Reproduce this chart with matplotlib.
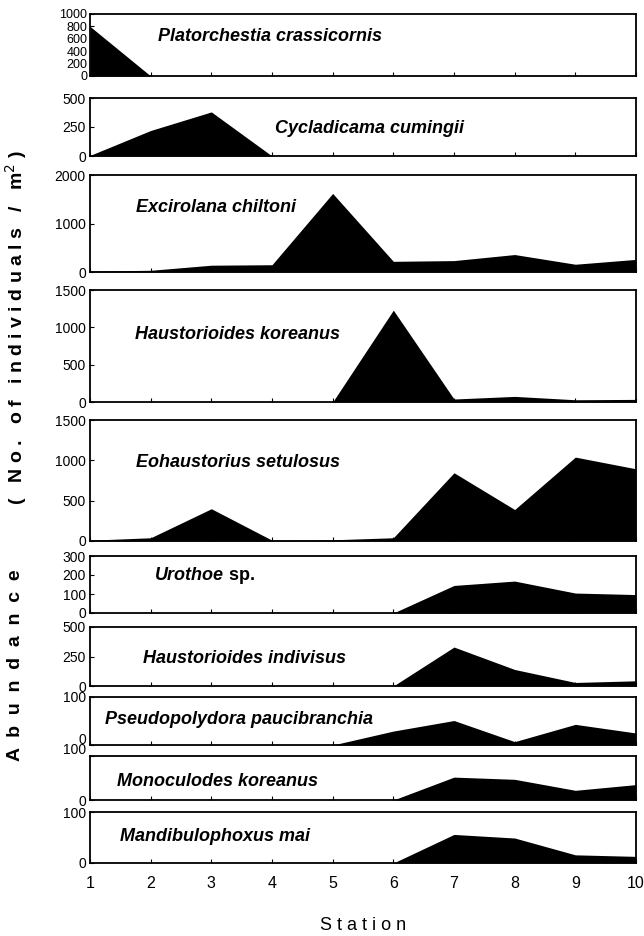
import matplotlib
matplotlib.use('Agg')
import matplotlib.pyplot as plt
import matplotlib.transforms as mtransforms
import numpy as np

plt.rcParams['font.family'] = ['Liberation Sans', 'DejaVu Sans']

# station numbers along the beach transect
stations = [1, 2, 3, 4, 5, 6, 7, 8, 9, 10]

# abundance (individuals / m2) per station
platorchestia = [800, 0, 0, 0, 0, 0, 0, 0, 0, 0]
cycladicama = [5, 220, 380, 0, 0, 0, 0, 0, 0, 0]
excirolana = [20, 35, 140, 150, 1620, 220, 235, 360, 160, 260]
h_koreanus = [0, 0, 0, 0, 0, 1230, 40, 75, 30, 35]
eohaustorius = [10, 40, 400, 10, 15, 40, 846, 390, 1040, 895]
urothoe = [0, 0, 0, 0, 0, 0, 145, 168, 105, 97]
h_indivisus = [0, 0, 0, 0, 0, 0, 330, 140, 30, 44]
pseudopolydora = [0, 0, 0, 0, 0, 29, 51, 7, 43, 25]
monoculodes = [0, 0, 0, 0, 0, 0, 52, 47, 22, 35]
mandibulophoxus = [0, 0, 0, 0, 0, 0, 56, 49, 16, 13]

species = ['Platorchestia crassicornis', 'Cycladicama cumingii', 'Excirolana chiltoni',
           'Haustorioides koreanus', 'Eohaustorius setulosus', 'Urothoe',
           'Haustorioides indivisus', 'Pseudopolydora paucibranchia',
           'Monoculodes koreanus', 'Mandibulophoxus mai']
series = [platorchestia, cycladicama, excirolana, h_koreanus, eohaustorius,
          urothoe, h_indivisus, pseudopolydora, monoculodes, mandibulophoxus]
y_max = [1000, 500, 2000, 1500, 1500, 300, 500, 100, 100, 100]
y_ticks = [[0, 200, 400, 600, 800, 1000], [0, 250, 500], [0, 1000, 2000],
           [0, 500, 1000, 1500], [0, 500, 1000, 1500], [0, 100, 200, 300],
           [0, 250, 500], [0, 100], [0, 100], [0, 100]]

# panel layout in pixels (figure is 644 x 936)
W, H = 644, 936
left_px, right_px = 90, 636
tops = [14, 98, 175, 290, 420, 556, 627, 697, 756, 812]
bottoms = [76, 156, 272, 402, 541, 613, 686, 745, 800, 863]
# species label: left x in pixels, height as fraction of the panel
label_x = [158, 275, 136, 135, 136, 155, 143, 105, 117, 120]
label_f = [0.63, 0.47, 0.66, 0.60, 0.65, 0.65, 0.47, 0.53, 0.43, 0.52]

fig = plt.figure(figsize=(W / 100, H / 100), dpi=100)
# the original has the "0" of panel 8 and the "100" of panel 9 pushed up a bit
lift = mtransforms.ScaledTranslation(0, 7 / 100, fig.dpi_scale_trans)

for i in range(10):
    ax = fig.add_axes([left_px / W, 1 - bottoms[i] / H,
                       (right_px - left_px) / W, (bottoms[i] - tops[i]) / H])
    ax.fill_between(stations, 0, series[i], color='black', lw=0)
    ax.set_xlim(1, 10)
    ax.set_ylim(0, y_max[i])
    ax.set_yticks(y_ticks[i])
    ax.set_xticks(stations)
    for s in ax.spines.values():
        s.set_linewidth(1.3)
    ax.tick_params(direction='in', length=3, width=0.8, labelsize=10, pad=3)
    if i == 0:
        ax.tick_params(axis='y', labelsize=9, pad=2)
    if i < 9:
        ax.tick_params(axis='x', labelbottom=False)
    else:
        ax.tick_params(axis='x', labelsize=11.5, pad=9)
    if i == 7:
        lab = ax.get_yticklabels()[0]
        lab.set_transform(lab.get_transform() + lift)
    if i == 8:
        lab = ax.get_yticklabels()[-1]
        lab.set_transform(lab.get_transform() + lift)

    tx = (label_x[i] - left_px) / (right_px - left_px)
    if species[i] == 'Urothoe':
        t = ax.text(tx, label_f[i], 'Urothoe', transform=ax.transAxes, fontsize=13,
                    style='italic', fontweight='bold', va='center', ha='left')
        ax.annotate(' sp.', xycoords=t, xy=(1, 0.5), va='center', ha='left',
                    fontsize=13, fontweight='bold')
    else:
        ax.text(tx, label_f[i], species[i], transform=ax.transAxes, fontsize=13,
                style='italic', fontweight='bold', va='center', ha='left')

fig.text(0.5 * (left_px + right_px) / W, 1 - 925 / H, 'S t a t i o n',
         ha='center', va='center', fontsize=13)

# y label: letter-spaced like the original
fig.text(16 / W, 1 - 665 / H, 'A  b  u  n  d  a  n  c  e',
         rotation=90, ha='center', va='center', fontsize=14, fontweight='bold')
fig.text(16 / W, 1 - 328 / H,
         ' '.join('( No. of individuals /') + '   m$^{2}$ )',
         rotation=90, ha='center', va='center', fontsize=14, fontweight='bold')

fig.savefig('out.png', dpi=100)
